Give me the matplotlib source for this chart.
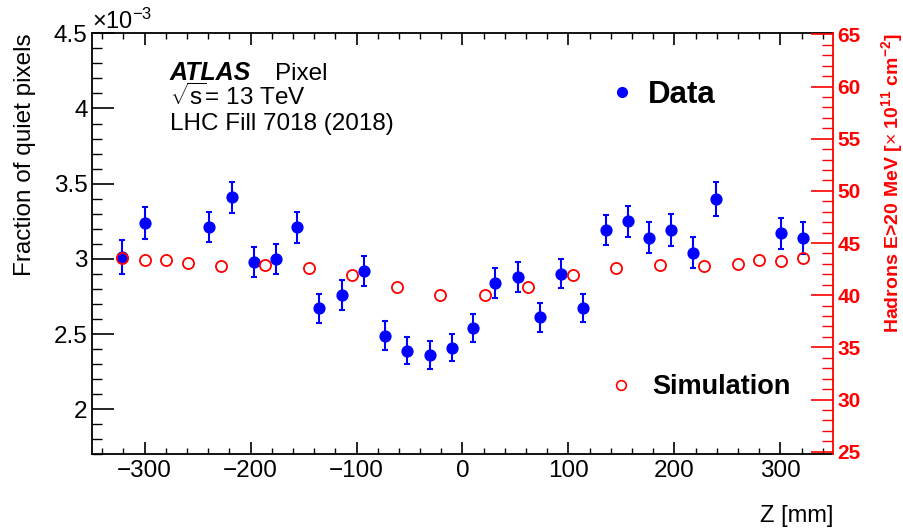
import matplotlib
matplotlib.use("Agg")
import matplotlib.pyplot as plt
from matplotlib.lines import Line2D
from matplotlib.ticker import MultipleLocator, FuncFormatter

plt.rcParams['font.family'] = ['Liberation Sans', 'DejaVu Sans']
plt.rcParams['mathtext.fontset'] = 'custom'
plt.rcParams['mathtext.rm'] = 'Liberation Sans'
plt.rcParams['mathtext.it'] = 'Liberation Sans:italic'
plt.rcParams['mathtext.bf'] = 'Liberation Sans:bold'

# ---- data (fraction in units of 1e-3) ----
z_data = [-321, -300, -239, -218, -197, -176, -156, -135, -114, -93, -73, -52, -31, -10,
          10, 31, 52, 73, 93, 114, 135, 156, 176, 197, 218, 239, 301, 321]
frac_quiet = [3.01, 3.24, 3.21, 3.41, 2.98, 3.00, 3.21, 2.67, 2.76, 2.92, 2.49, 2.39, 2.36, 2.41,
              2.54, 2.84, 2.88, 2.61, 2.90, 2.67, 3.19, 3.25, 3.14, 3.19, 3.04, 3.40, 3.17, 3.14]
frac_err = [0.114, 0.105, 0.101, 0.103, 0.098, 0.099, 0.104, 0.095, 0.098, 0.100, 0.096, 0.089, 0.091, 0.089,
            0.092, 0.098, 0.100, 0.095, 0.096, 0.093, 0.100, 0.102, 0.102, 0.107, 0.102, 0.114, 0.104, 0.105]

z_sim = [-321, -300, -280, -259, -228, -186, -145, -104, -62, -21,
         21, 62, 104, 145, 186, 228, 260, 280, 301, 321]
fluence_sim = [43.6, 43.35, 43.4, 43.06, 42.83, 42.9, 42.64, 41.94, 40.76, 40.0,
               40.0, 40.76, 41.94, 42.64, 42.9, 42.8, 43.03, 43.41, 43.31, 43.6]

W, H = 904, 528
fig = plt.figure(figsize=(W / 100, H / 100), dpi=100)

def fx(px):
    return px / W

def fy(py):
    return 1 - py / H

L, R, T, B = 91.7, 833.3, 33.3, 454.3
ax = fig.add_axes([fx(L), fy(B), fx(R) - fx(L), fy(T) - fy(B)])
ax2 = ax.twinx()

ax.set_xlim(-350, 350)
ax.set_ylim(1.7, 4.5)
ax2.set_ylim(24.75, 65.1)

ax.errorbar(z_data, frac_quiet, yerr=frac_err, fmt='o', color='#0000ff', ms=7.8,
            elinewidth=1.5, capsize=2.5, capthick=1.5, zorder=3)
ax2.plot(z_sim, fluence_sim, 'o', mfc='none', mec='#ff0000', mew=1.3, ms=8.0, zorder=4)

# left / bottom axes styling
ax.xaxis.set_major_locator(MultipleLocator(100))
ax.xaxis.set_minor_locator(MultipleLocator(20))
ax.yaxis.set_major_locator(MultipleLocator(0.5))
ax.yaxis.set_minor_locator(MultipleLocator(0.1))
ax.yaxis.set_major_formatter(FuncFormatter(lambda v, p: f"{v:g}"))
ax.tick_params(axis='x', which='major', direction='in', length=8.6, width=1.2,
               top=True, labelsize=17.5, pad=4)
ax.tick_params(axis='x', which='minor', direction='in', length=4.3, width=1.0, top=True)
ax.tick_params(axis='y', which='major', direction='in', length=15.8, width=1.2,
               right=False, labelsize=17.5, pad=3)
ax.tick_params(axis='y', which='minor', direction='in', length=7.5, width=1.0, right=False)
for s in ['left', 'bottom', 'top']:
    ax.spines[s].set_linewidth(1.3)
ax.spines['right'].set_visible(False)

# right axis styling
ax2.yaxis.set_major_locator(MultipleLocator(5))
ax2.yaxis.set_minor_locator(MultipleLocator(1))
ax2.tick_params(axis='y', which='major', direction='in', length=15.8, width=1.2,
                colors='#ff0000', labelsize=15, pad=3)
ax2.tick_params(axis='y', which='minor', direction='in', length=7.9, width=1.0, colors='#ff0000')
for lab in ax2.get_yticklabels():
    lab.set_fontweight('bold')
for s in ['left', 'bottom', 'top']:
    ax2.spines[s].set_visible(False)
ax2.spines['right'].set_color('#ff0000')
ax2.spines['right'].set_linewidth(1.3)

# axis titles
ax.set_xlabel('Z [mm]', fontsize=17, loc='right', labelpad=17)
ax.set_ylabel('Fraction of quiet pixels', fontsize=17.5, loc='top', labelpad=13)
ax2.set_ylabel(r'Hadrons E>20 MeV [$\times$ 10$^{\mathbf{11}}$ cm$^{\mathbf{-2}}$]',
               fontsize=14, fontweight='bold', color='#ff0000', loc='top', labelpad=13)

fig.text(fx(92), fy(29), r'$\times$10$^{-3}$', fontsize=17, ha='left', va='baseline')

# ATLAS label
fig.text(fx(170), fy(80), 'ATLAS', fontsize=18, fontweight='bold', fontstyle='italic',
         ha='left', va='baseline')
fig.text(fx(275), fy(80), 'Pixel', fontsize=17.5, ha='left', va='baseline')
fig.text(fx(170), fy(105), r'$\sqrt{\mathrm{s}}$= 13 TeV', fontsize=17.5, ha='left', va='baseline')
fig.text(fx(170), fy(130), 'LHC Fill 7018 (2018)', fontsize=17.5, ha='left', va='baseline')

# legends
h_data = Line2D([], [], marker='o', ls='none', color='#0000ff', ms=7)
h_sim = Line2D([], [], marker='o', ls='none', mfc='none', mec='#ff0000', mew=1.2, ms=7)
leg1 = ax2.legend([h_data], ['Data'], loc='center left',
                  bbox_to_anchor=(fx(603), fy(95)), bbox_transform=fig.transFigure,
                  frameon=False, prop={'weight': 'bold', 'size': 22.5},
                  handletextpad=0.25, handlelength=1.2, borderaxespad=0, borderpad=0)
ax2.add_artist(leg1)
leg2 = ax2.legend([h_sim], ['Simulation'], loc='center left',
                  bbox_to_anchor=(fx(605), fy(387)), bbox_transform=fig.transFigure,
                  frameon=False, prop={'weight': 'bold', 'size': 19.5},
                  handletextpad=0.55, handlelength=1.2, borderaxespad=0, borderpad=0)

fig.savefig('out.png', dpi=100)
